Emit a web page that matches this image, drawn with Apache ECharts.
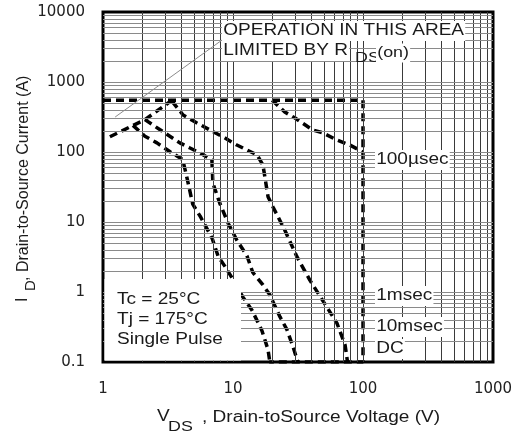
<!DOCTYPE html>
<html><head><meta charset="utf-8">
<script src="https://cdn.jsdelivr.net/npm/echarts@6/dist/echarts.min.js"></script>
<style>html,body{margin:0;padding:0;background:#fff}#c{width:523px;height:435px}</style>
</head><body><div id="c"></div>
<script>
// ---- data ----
const xTickLabels = ['1', '10', '100', '1000'];
const yTickLabels = ['0.1', '1', '10', '100', '1000', '10000'];
// RDS(on) limit (diagonal)
const rdsLimit = [[1.13, 165], [2.1, 290], [3.4, 550]];
// current / voltage boundary
const boundary = [[1, 550], [100, 550], [100, 0.1], [19, 0.1]];
const us100 = [[20, 550], [25, 373], [30, 306], [41, 206], [49, 188], [63, 148], [79, 126], [100, 100]];
const ms1 = [[3.4, 530], [4.13, 338], [5.28, 260], [6.65, 206], [8.4, 164], [10.7, 126], [15.3, 91], [17, 65],
  [18.6, 23], [20.3, 16.4], [25, 7.7], [31, 3.2], [39, 1.48], [52.7, 0.61], [63, 0.36], [72.8, 0.175], [75, 0.12], [76, 0.1]];
const ms10 = [[2.1, 290], [3.16, 175], [3.9, 135], [4.67, 114], [5.57, 97], [6.88, 77], [7.0, 36], [7.9, 18.7],
  [9.15, 9.7], [10.7, 5.5], [12.8, 3.3], [14.2, 1.9], [17, 1.26], [19.2, 0.91], [23, 0.44], [26, 0.29], [29, 0.164], [31, 0.11], [31.6, 0.1]];
const dcCurve = [[1.7, 240], [2.1, 168], [2.6, 135], [3.3, 100], [4.1, 78], [4.4, 45], [4.9, 18], [5.6, 12], [6.9, 5.9],
  [7.7, 3.2], [8.7, 2.3], [9.8, 1.6], [11.9, 0.85], [14, 0.55], [16.7, 0.28], [18.6, 0.15], [19.2, 0.1]];
const leaderLine = [[1.24, 316], [8.24, 3981]];

// ---- gridlines (log decades) ----
function logGrid(lo, hi) {
  const out = [];
  for (let d = lo; d < hi; d++) {
    for (let k = 1; k <= 9; k++) {
      const v = k * Math.pow(10, d);
      if (d === lo && k === 1) continue;
      out.push(+v.toPrecision(6));
    }
  }
  return out;
}
const xGrid = logGrid(0, 3);
const yGrid = logGrid(-1, 4);

const chart = echarts.init(document.getElementById('c'), null, {renderer: 'canvas'});

const curveStyle = {color: '#000', width: 3.5, type: [8, 5]};
function curve(name, data) {
  return {name, type: 'line', data, showSymbol: false, symbol: 'none', z: 3,
    lineStyle: curveStyle, silent: true, animation: false};
}
function fmt(list) {
  return v => {
    const s = list.find(l => Math.abs(Math.log10(+l) - Math.log10(v)) < 1e-6);
    return s || '';
  };
}
const txtFont = '"Liberation Sans", Arial, sans-serif';
const SX = 1.19;
function label(text, x, y, size, extra) {
  return Object.assign({type: 'text', x, y, scaleX: SX, z: 60,
    style: {text, fontSize: size, fontFamily: txtFont, fill: '#1a1a1a', align: 'left', verticalAlign: 'middle'}}, extra || {});
}
function boxed(text, x, y, size) {
  const l = label(text, x, y, size);
  l.style.backgroundColor = '#fff';
  l.style.padding = [2, 1, 2, 1];
  return l;
}

chart.setOption({
  animation: false,
  backgroundColor: '#fff',
  grid: {left: 103, right: 30, top: 12, bottom: 73, show: true, borderColor: '#000', borderWidth: 3, backgroundColor: 'transparent'},
  xAxis: {type: 'log', logBase: 10, min: 1, max: 1000, interval: 1,
    axisLine: {show: false}, axisTick: {show: false}, splitLine: {show: false},
    axisLabel: {formatter: fmt(xTickLabels), color: '#222', fontSize: 15, fontFamily: 'DejaVu Sans', margin: 20}},
  yAxis: {type: 'log', logBase: 10, min: 0.1, max: 10000, interval: 1,
    axisLine: {show: false}, axisTick: {show: false}, splitLine: {show: false},
    axisLabel: {formatter: fmt(yTickLabels), color: '#222', fontSize: 15, fontFamily: 'DejaVu Sans', margin: 18}},
  series: [
    {name: 'grid', type: 'line', data: [], z: 1, silent: true,
      markLine: {silent: true, symbol: 'none', animation: false, label: {show: false},
        data: [
          ...xGrid.map(v => ({xAxis: v, lineStyle: {color: '#3a3a3a', width: 1, type: 'solid'}})),
          ...yGrid.map(v => ({yAxis: v, lineStyle: {color: '#8a8a8a', width: 1, type: 'solid'}})),
          [{coord: leaderLine[0], lineStyle: {color: '#8c8c8c', width: 1, type: 'solid'}}, {coord: leaderLine[1]}]
        ]}},
    curve('RDS(on) limit', rdsLimit),
    curve('limit', boundary),
    curve('100µsec', us100),
    curve('1msec', ms1),
    curve('10msec', ms10),
    curve('DC', dcCurve)
  ],
  graphic: [
    {type: 'rect', shape: {x: 104.5, y: 279, width: 136.5, height: 81.5}, style: {fill: '#fff'}, z: 50},
    label('Tc = 25°C', 117, 300, 16),
    label('Tj = 175°C', 117, 320, 16),
    label('Single Pulse', 117, 340, 16),
    boxed('OPERATION IN THIS AREA', 222, 31, 16),
    boxed('LIMITED BY R', 222, 51, 16),
    label('DS', 355, 58, 15),
    boxed('(on)', 376, 53, 15),
    boxed('100µsec', 375, 160, 16),
    boxed('1msec', 375, 296, 16),
    boxed('10msec', 375, 327, 16),
    boxed('DC', 375, 349, 16),
    label('V', 157, 417, 16),
    label('DS', 168, 427, 15),
    label(', Drain-toSource Voltage (V)', 202, 418, 16),
    {type: 'text', x: 23, y: 302, rotation: Math.PI / 2, z: 60,
      style: {text: 'I', fontSize: 16, fontFamily: txtFont, fill: '#1a1a1a', align: 'left', verticalAlign: 'middle'}},
    {type: 'text', x: 31, y: 291, rotation: Math.PI / 2, z: 60,
      style: {text: 'D', fontSize: 15, fontFamily: txtFont, fill: '#1a1a1a', align: 'left', verticalAlign: 'middle'}},
    {type: 'text', x: 24, y: 281, rotation: Math.PI / 2, z: 60,
      style: {text: ', Drain-to-Source Current (A)', fontSize: 16, fontFamily: txtFont, fill: '#1a1a1a', align: 'left', verticalAlign: 'middle'}}
  ]
});
</script>
</body></html>
